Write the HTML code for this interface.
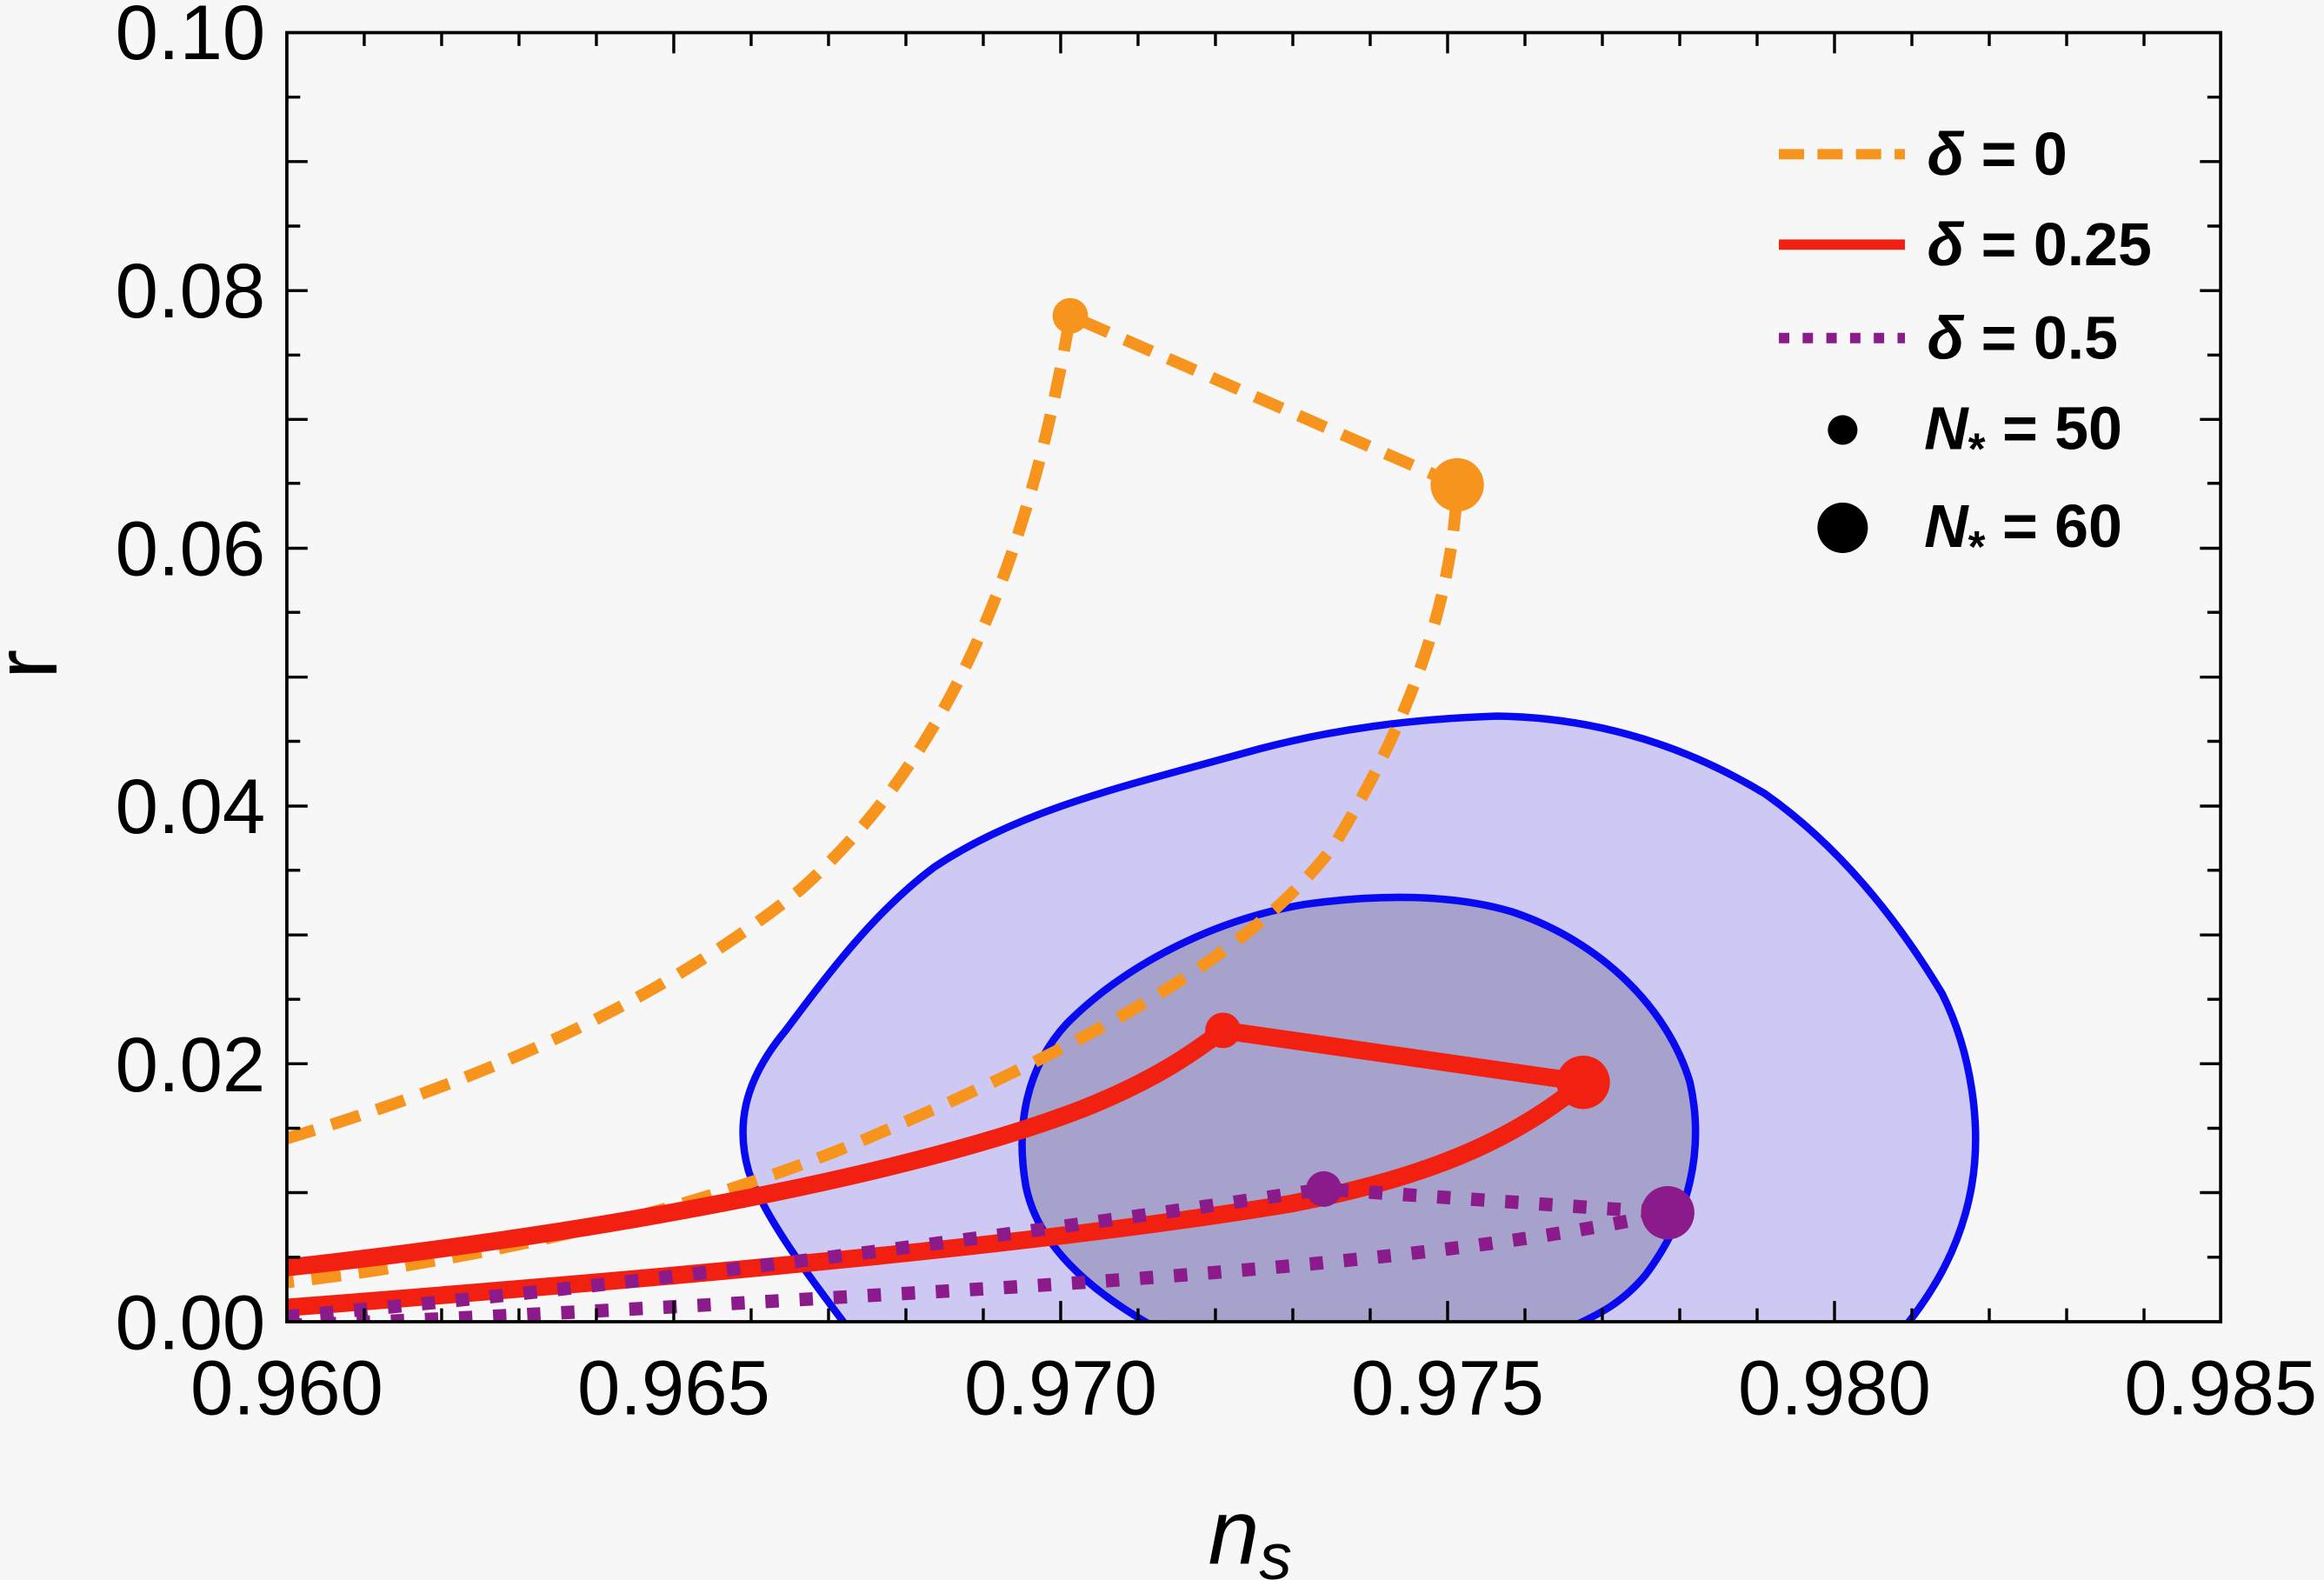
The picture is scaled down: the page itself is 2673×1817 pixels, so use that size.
<!DOCTYPE html>
<html><head><meta charset="utf-8"><style>html,body{margin:0;padding:0;background:#f7f7f7}svg{display:block}</style></head>
<body>
<svg width="2673" height="1817" viewBox="0 0 1567.7 1065.7" preserveAspectRatio="none" xmlns="http://www.w3.org/2000/svg" font-family="Liberation Sans, sans-serif">
<rect width="1567.7" height="1065.7" fill="#f7f7f7"/>
<defs><clipPath id="c"><rect x="193.5" y="22" width="1304.5" height="869.5"/></clipPath></defs>
<g clip-path="url(#c)">
<path d="M570,893 C545,860 515,820 505,790 C495,755 505,725 530,695 C560,655 590,615 630,585 C690,545 760,530 850,505 C900,492 950,485 1010,483 C1080,484 1140,505 1190,535 C1240,570 1280,620 1310,670 C1330,710 1337,760 1330,800 C1323,840 1305,870 1285,895 Z" fill="#cdc9f2" stroke="#0a0af0" stroke-width="5"/>
<path d="M775,893 C735,870 700,840 692,800 C685,760 692,720 720,690 C760,650 820,620 880,610 C930,603 980,603 1020,615 C1080,635 1125,680 1140,730 C1150,775 1140,820 1110,860 C1095,878 1080,886 1060,895 Z" fill="#a6a2cc" stroke="#0a0af0" stroke-width="5"/>
<g fill="none" stroke-linecap="butt">
<path d="M193,768 C320,730 440,680 540,600 C630,520 690,400 722,213 L983,327 C980,400 955,480 900,570 C840,650 720,710 580,770 C460,820 320,850 193,865" stroke="#f7941d" stroke-width="8" stroke-dasharray="20 12"/>
<path d="M193,855 C420,830 620,790 730,748 C780,728 805,710 825,695 L1068,730 C1020,770 960,795 870,812 C700,840 450,862 193,882" stroke="#f22010" stroke-width="12" stroke-linejoin="round"/>
<path d="M193,888 C400,870 650,838 893,802 L1125,818 C1000,846 800,862 600,873 C450,882 300,890 193,894" stroke="#8b1a8b" stroke-width="9" stroke-dasharray="9 14"/>
</g>
<circle cx="722" cy="213" r="12" fill="#f7941d"/><circle cx="983" cy="327" r="18" fill="#f7941d"/>
<circle cx="825" cy="695" r="12" fill="#f22010"/><circle cx="1068" cy="730" r="18" fill="#f22010"/>
<circle cx="893" cy="802" r="12" fill="#8b1a8b"/><circle cx="1125" cy="818" r="18" fill="#8b1a8b"/>
</g>
<rect x="193.5" y="22" width="1304.5" height="869.5" fill="none" stroke="#000" stroke-width="2.2"/>
<g stroke="#000" stroke-width="2">
<path d="M245.7,891.5v-9M297.9,891.5v-9M350.1,891.5v-9M402.3,891.5v-9M454.5,891.5v-14M506.7,891.5v-9M558.9,891.5v-9M611.1,891.5v-9M663.3,891.5v-9M715.5,891.5v-14M767.7,891.5v-9M819.9,891.5v-9M872.1,891.5v-9M924.3,891.5v-9M976.5,891.5v-14M1028.7,891.5v-9M1080.9,891.5v-9M1133.1,891.5v-9M1185.3,891.5v-9M1237.5,891.5v-14M1289.7,891.5v-9M1341.9,891.5v-9M1394.1,891.5v-9M1446.3,891.5v-9"/>
<path d="M245.7,22v9M297.9,22v9M350.1,22v9M402.3,22v9M454.5,22v14M506.7,22v9M558.9,22v9M611.1,22v9M663.3,22v9M715.5,22v14M767.7,22v9M819.9,22v9M872.1,22v9M924.3,22v9M976.5,22v14M1028.7,22v9M1080.9,22v9M1133.1,22v9M1185.3,22v9M1237.5,22v14M1289.7,22v9M1341.9,22v9M1394.1,22v9M1446.3,22v9"/>
<path d="M193.5,848h9M193.5,804.4h14M193.5,761h9M193.5,717.5h14M193.5,674h9M193.5,630.6h14M193.5,587h9M193.5,543.7h14M193.5,500h9M193.5,456.7h14M193.5,413h9M193.5,369.8h14M193.5,326h9M193.5,282.9h14M193.5,239.5h9M193.5,196h14M193.5,152.5h9M193.5,109h14M193.5,65.5h9"/>
<path d="M1498,848h-9M1498,804.4h-14M1498,761h-9M1498,717.5h-14M1498,674h-9M1498,630.6h-14M1498,587h-9M1498,543.7h-14M1498,500h-9M1498,456.7h-14M1498,413h-9M1498,369.8h-14M1498,326h-9M1498,282.9h-14M1498,239.5h-9M1498,196h-14M1498,152.5h-9M1498,109h-14M1498,65.5h-9"/>
</g>
<g font-size="52" fill="#000">
<g text-anchor="end"><text x="179" y="910">0.00</text><text x="179" y="736">0.02</text><text x="179" y="562">0.04</text><text x="179" y="388">0.06</text><text x="179" y="214">0.08</text><text x="179" y="40">0.10</text></g>
<g text-anchor="middle"><text x="193.5" y="954">0.960</text><text x="454.5" y="954">0.965</text><text x="715.5" y="954">0.970</text><text x="976.5" y="954">0.975</text><text x="1237.5" y="954">0.980</text><text x="1498" y="954">0.985</text></g>
<text x="815" y="1055" font-style="italic" font-size="62">n<tspan font-size="44" dy="10">s</tspan></text>
<text transform="translate(38,448) rotate(-90)" text-anchor="middle" font-size="60">r</text>
</g>
<g font-size="41" font-weight="bold">
<path d="M1200,104h85" stroke="#f7941d" stroke-width="7" stroke-dasharray="17 9"/>
<path d="M1200,165h85" stroke="#f22010" stroke-width="7"/>
<path d="M1200,228h85" stroke="#8b1a8b" stroke-width="7" stroke-dasharray="7 9"/>
<circle cx="1243" cy="290" r="10"/><circle cx="1243" cy="356" r="17"/>
<text x="1300" y="118"><tspan font-style="italic">δ</tspan> = 0</text><text x="1300" y="179"><tspan font-style="italic">δ</tspan> = 0.25</text><text x="1300" y="242"><tspan font-style="italic">δ</tspan> = 0.5</text>
<text x="1298" y="303"><tspan font-style="italic">N</tspan><tspan font-size="30" dy="10">*</tspan><tspan dy="-10"> = 50</tspan></text>
<text x="1298" y="369"><tspan font-style="italic">N</tspan><tspan font-size="30" dy="10">*</tspan><tspan dy="-10"> = 60</tspan></text>
</g>
</svg>
</body></html>
